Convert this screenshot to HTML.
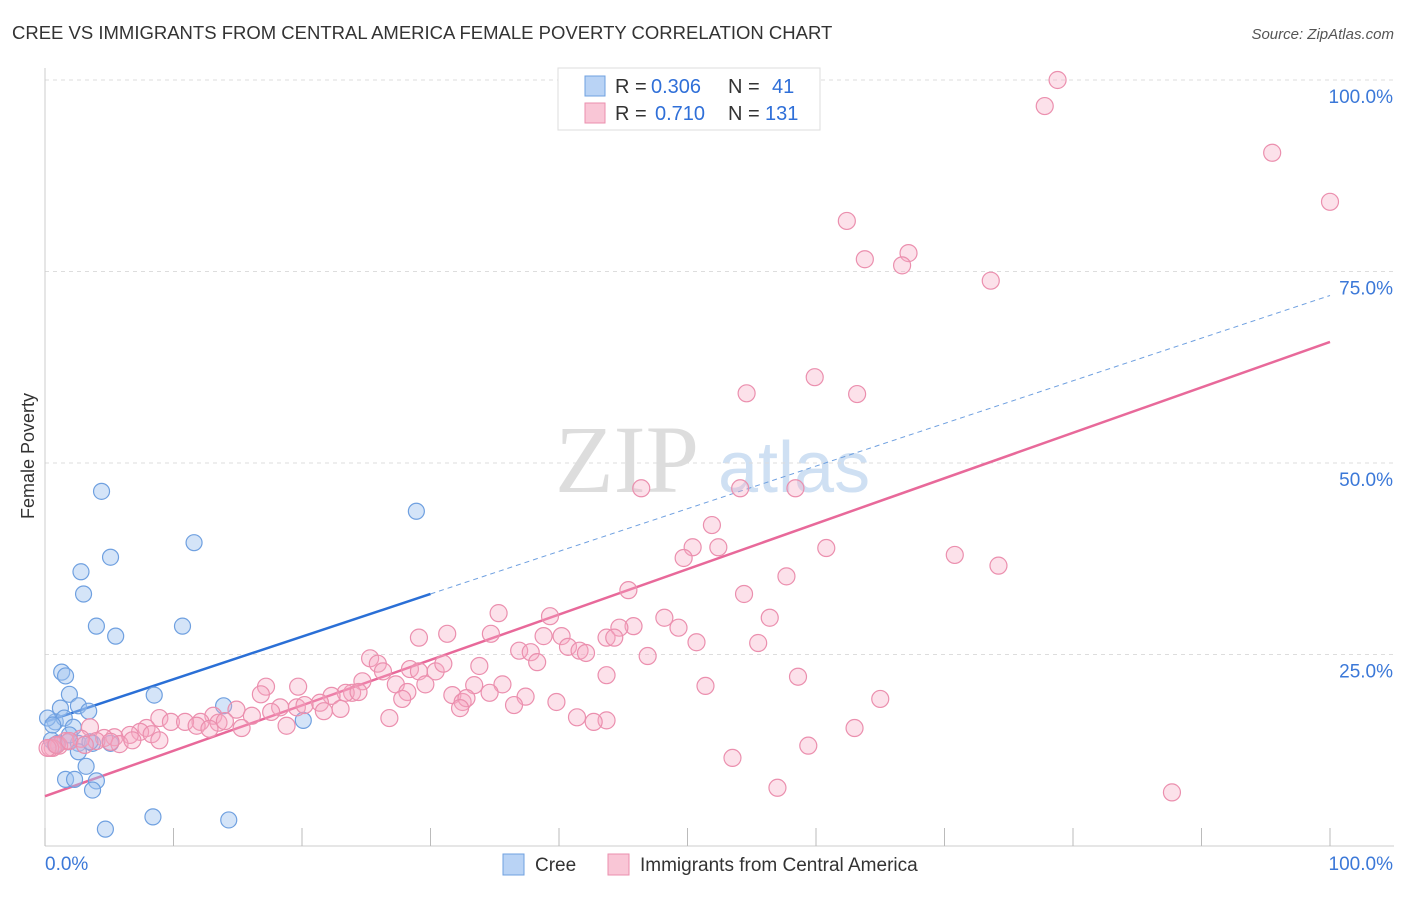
<!DOCTYPE html>
<html><head><meta charset="utf-8"><style>
body{margin:0;background:#fff;font-family:"Liberation Sans",sans-serif;}
</style></head><body>
<svg id="chart" width="1406" height="892" xmlns="http://www.w3.org/2000/svg">
<text x="12" y="39" font-size="18.5" fill="#333">CREE VS IMMIGRANTS FROM CENTRAL AMERICA FEMALE POVERTY CORRELATION CHART</text>
<text x="1394" y="39" font-size="15" fill="#555" font-style="italic" text-anchor="end">Source: ZipAtlas.com</text>
<text x="34" y="456" font-size="18" fill="#333" text-anchor="middle" transform="rotate(-90 34 456)">Female Poverty</text>
<g><text x="555" y="492" font-size="96" fill="#ddd" font-family="Liberation Serif,serif">ZIP</text><text x="718" y="492" font-size="72" fill="#cfe0f3">atlas</text></g>
<g id="grid"></g><g id="axes"></g><g id="lines"></g><g id="pts"></g>
<g>
<rect x="558" y="68" width="262" height="62" fill="#fff" stroke="#ddd"/>
<rect x="585" y="76" width="20" height="20" fill="#b9d3f5" stroke="#6fa0e0"/>
<rect x="585" y="103" width="20" height="20" fill="#f9c6d6" stroke="#eb8fae"/>
<text x="615" y="93" font-size="20" fill="#333">R = <tspan fill="#2f6fd8" x="651">0.306</tspan><tspan x="728">N = </tspan><tspan fill="#2f6fd8" x="772">41</tspan></text>
<text x="615" y="120" font-size="20" fill="#333">R = <tspan fill="#2f6fd8" x="655">0.710</tspan><tspan x="728">N = </tspan><tspan fill="#2f6fd8" x="765">131</tspan></text>
</g>
<g>
<rect x="503" y="854" width="21" height="21" fill="#b9d3f5" stroke="#6fa0e0"/>
<text x="535" y="871" font-size="19" fill="#333">Cree</text>
<rect x="608" y="854" width="21" height="21" fill="#f9c6d6" stroke="#eb8fae"/>
<text x="640" y="871" font-size="19" fill="#333">Immigrants from Central America</text>
</g>
</svg>
<script>
const yTicks=[25,50,75,100];
const yTickLabels=["25.0%","50.0%","75.0%","100.0%"];
const xTicks=[0,10,20,30,40,50,60,70,80,90,100];
const creeX=[4.4,5.1,2.8,3.0,4.0,5.5,11.6,10.7,28.9,1.3,1.6,1.9,8.5,1.2,2.6,3.4,13.9,0.8,1.5,2.2,0.5,1.0,1.8,2.6,3.7,5.1,2.6,3.2,1.6,2.3,4.0,3.7,4.7,8.4,14.3,20.1,0.2,0.6,1.9,3.5,0.8];
const creeY=[46.3,37.7,35.8,32.9,28.7,27.4,39.6,28.7,43.7,22.7,22.2,19.8,19.7,18.0,18.3,17.6,18.3,16.2,16.7,15.5,13.8,13.4,13.6,13.4,13.4,13.4,12.3,10.4,8.7,8.7,8.5,7.3,2.2,3.8,3.4,16.4,16.7,15.8,14.5,13.6,13.2];
const immX=[78.8,77.8,95.5,100,62.4,67.2,63.8,66.7,73.6,59.9,54.6,63.2,46.4,54.1,58.4,51.9,50.4,52.4,60.8,70.8,74.2,49.7,57.7,45.4,54.4,35.3,39.3,56.4,48.2,45.8,44.7,49.3,29.1,31.3,34.7,38.8,40.2,43.7,44.3,50.7,55.5,36.9,40.7,41.6,42.1,37.8,38.3,46.9,25.3,25.9,26.3,28.4,29.1,30.4,31.0,33.8,24.7,27.3,29.6,43.7,23.9,19.7,17.2,16.8,23.4,22.3,21.4,24.4,28.2,27.8,31.7,33.4,35.6,34.6,37.4,51.4,58.6,65.0,39.8,32.5,32.8,36.5,32.3,23.0,21.7,18.3,19.6,20.2,17.6,14.9,16.1,13.1,12.1,13.5,15.3,8.9,9.8,10.9,11.8,12.8,14.0,7.9,7.4,6.6,5.4,8.3,3.5,4.6,4.0,2.8,1.6,1.1,0.6,0.4,5.8,8.9,6.8,18.8,26.8,41.4,43.7,42.7,63.0,59.4,53.5,57.0,87.7,0.2,0.9,1.9,3.1,5.1];
const immY=[100,96.6,90.5,84.1,81.6,77.4,76.6,75.8,73.8,61.2,59.1,59.0,46.7,46.7,46.7,41.9,39.0,39.0,38.9,38.0,36.6,37.6,35.2,33.4,32.9,30.4,30.0,29.8,29.8,28.7,28.5,28.5,27.2,27.7,27.7,27.4,27.4,27.2,27.2,26.6,26.5,25.5,26.0,25.5,25.2,25.3,24.0,24.8,24.5,23.8,22.8,23.1,22.8,22.8,23.8,23.5,21.5,21.1,21.1,22.3,20.0,20.8,20.8,19.8,20.0,19.6,18.7,20.1,20.1,19.2,19.7,21.0,21.1,20.0,19.5,20.9,22.1,19.2,18.8,18.8,19.3,18.4,18.0,17.9,17.6,18.1,18.1,18.4,17.5,17.8,17.0,17.0,16.2,16.1,15.4,16.7,16.2,16.2,15.7,15.3,16.3,15.4,14.9,14.5,14.2,14.6,15.5,14.1,13.7,14.0,13.7,13.1,12.8,12.8,13.3,13.8,13.8,15.7,16.7,16.8,16.4,16.2,15.4,13.1,11.5,7.6,7.0,12.8,13.2,13.7,13.2,13.6];
const creeTrend=[16.2,32.9]; // y at x=0 and x=30
const creeTrendEnd=[30,100];
const immTrend=[6.5,65.8]; // y at x=0 and x=100
const NS="http://www.w3.org/2000/svg";
const X=v=>45+v*12.85, Y=v=>846-v*7.66;
function mk(tag,attrs,parent){const e=document.createElementNS(NS,tag);for(const k in attrs)e.setAttribute(k,attrs[k]);document.getElementById(parent).appendChild(e);return e;}
yTicks.forEach((t,i)=>{
 const g=mk('line',{x1:45,x2:1394,y1:Y(t),y2:Y(t),stroke:'#ddd','stroke-dasharray':'4 4'},'grid');
 
 
 const l=mk('text',{x:1393,y:Y(t)+23,'font-size':19,fill:'#3b78d8','text-anchor':'end'},'axes');
 l.textContent=yTickLabels[i];
 
 
});
const ax=mk('line',{x1:45,x2:1394,y1:846,y2:846,stroke:'#ccc'},'axes');


const ay=mk('line',{x1:45,x2:45,y1:68,y2:846,stroke:'#ccc'},'axes');


xTicks.forEach(t=>{
 const k=mk('line',{x1:X(t),x2:X(t),y1:828,y2:846,stroke:'#bbb'},'axes');
 
 
});
const x0=mk('text',{x:45,y:870,'font-size':19,fill:'#3b78d8'},'axes');x0.textContent='0.0%';


const x1=mk('text',{x:1393,y:870,'font-size':19,fill:'#3b78d8','text-anchor':'end'},'axes');x1.textContent='100.0%';


creeX.forEach((v,i)=>{
 const c=mk('circle',{cx:X(v),cy:Y(creeY[i]),r:8,fill:'rgba(160,195,240,0.45)',stroke:'#6fa0e0','stroke-width':1.2},'pts');
 
 
});
immX.forEach((v,i)=>{
 const c=mk('circle',{cx:X(v),cy:Y(immY[i]),r:8.5,fill:'rgba(245,170,195,0.35)',stroke:'#eb8fae','stroke-width':1.2},'pts');
 
 
});
const slope=(creeTrend[1]-creeTrend[0])/creeTrendEnd[0];
const d=mk('line',{x1:X(creeTrendEnd[0]),y1:Y(creeTrend[1]),x2:X(creeTrendEnd[1]),y2:Y(creeTrend[0]+slope*creeTrendEnd[1]),stroke:'#6fa0e0','stroke-width':1,'stroke-dasharray':'5 4'},'lines');


const b=mk('line',{x1:X(0),y1:Y(creeTrend[0]),x2:X(creeTrendEnd[0]),y2:Y(creeTrend[1]),stroke:'#2a6fd6','stroke-width':2.5},'lines');


const p=mk('line',{x1:X(0),y1:Y(immTrend[0]),x2:X(100),y2:Y(immTrend[1]),stroke:'#e8699a','stroke-width':2.5},'lines');


</script>
</body></html>
